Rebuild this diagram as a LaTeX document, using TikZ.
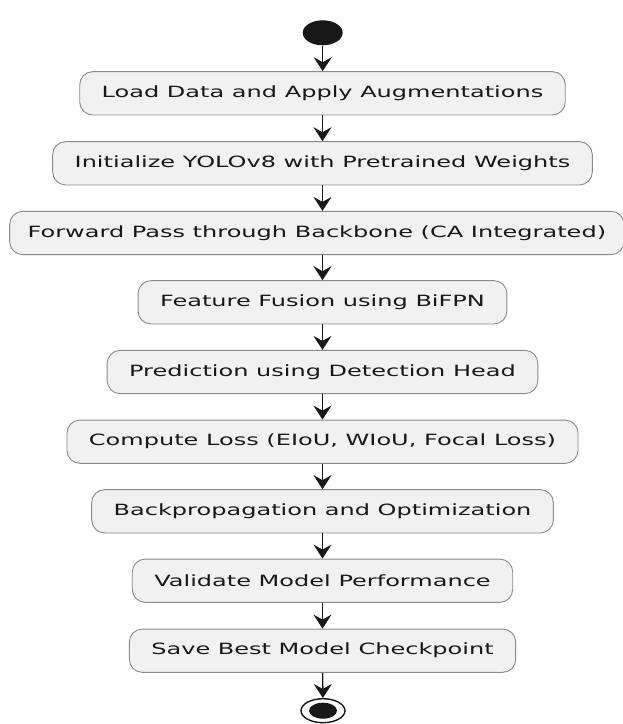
\documentclass[tikz,border=0pt]{standalone}
\usepackage{fontspec}
\newfontfamily\umlfont[FakeStretch=1.55]{DejaVu Sans}
\usetikzlibrary{shapes.geometric}
\usetikzlibrary{arrows.meta}
\tikzset{>={Stealth[width=18pt,length=14pt,inset=5pt]}}
\definecolor{boxfill}{HTML}{F1F1F1}
\definecolor{boxline}{HTML}{8A8A8A}
\definecolor{inkc}{HTML}{181818}

\begin{document}
\begin{tikzpicture}[x=1pt,y=1pt]
        \useasboundingbox (0,0) rectangle (623,-724);
        \tikzstyle{actbox} = [draw=boxline, fill=boxfill, line width=0.9pt, rounded corners=13pt,
        minimum height=43.3pt, inner xsep=22pt, text=inkc, font=\umlfont\fontsize{15.5}{18}\selectfont]
        \tikzstyle{flow} = [->, line width=1.4pt, draw=inkc]
        \node[ellipse, fill=inkc, minimum width=40pt, minimum height=25pt, inner sep=0pt] (start) at (322.7,-32.8) {};
        \node[actbox] (load) at (322.5,-93.3) {Load Data and Apply Augmentations};
        \node[actbox] (init) at (322.5,-163.3) {Initialize YOLOv8 with Pretrained Weights};
        \node[actbox, inner xsep=18pt] (fwd) at (316.9,-233) {Forward Pass through Backbone (CA Integrated)};
        \node[actbox] (fuse) at (322.5,-302.3) {Feature Fusion using BiFPN};
        \node[actbox] (pred) at (322.5,-372) {Prediction using Detection Head};
        \node[actbox] (loss) at (322.5,-441.7) {Compute Loss (EIoU, WIoU, Focal Loss)};
        \node[actbox] (back) at (322.5,-511.3) {Backpropagation and Optimization};
        \node[actbox] (valid) at (322.5,-580.7) {Validate Model Performance};
        \node[actbox] (save) at (322.5,-650.7) {Save Best Model Checkpoint};
        \node[ellipse, draw=inkc, line width=1.4pt, fill=white, minimum width=44pt, minimum height=24pt, inner sep=0pt] (stop) at (323,-710.7) {};
        \node[ellipse, fill=inkc, minimum width=28pt, minimum height=16pt, inner sep=0pt] (stopdot) at (stop.center) {};

        \draw[flow] (start) to (start |- load.north);
        \draw[flow] (load) to (init);
        \draw[flow] (init) to (init |- fwd.north);
        \draw[flow] (fwd.south -| fuse) to (fuse);
        \draw[flow] (fuse) to (pred);
        \draw[flow] (pred) to (loss);
        \draw[flow] (loss) to (back);
        \draw[flow] (back) to (valid);
        \draw[flow] (valid) to (save);
        \draw[flow] (save) to (stop);
      \end{tikzpicture}
\end{document}
